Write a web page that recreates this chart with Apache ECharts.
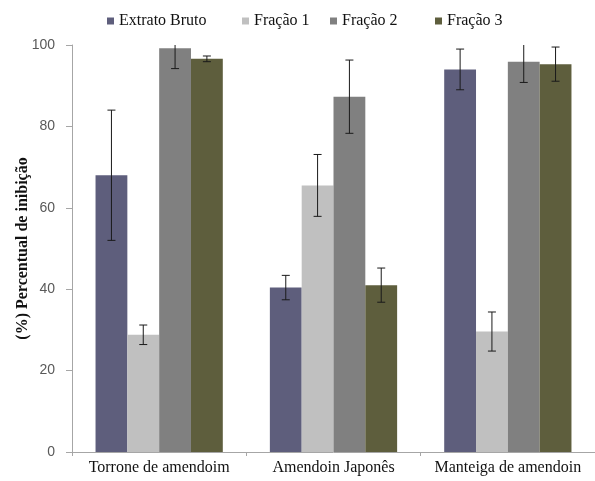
<!DOCTYPE html>
<html><head><meta charset="utf-8">
<script src="https://cdn.jsdelivr.net/npm/echarts@6/dist/echarts.min.js"></script>
<style>html,body{margin:0;padding:0;background:#fff}#c{width:595px;height:481px}</style>
</head><body><div id="c"></div>
<script>
const categories = ['Torrone de amendoim', 'Amendoin Japonês', 'Manteiga de amendoin'];
const seriesNames = ['Extrato Bruto', 'Fração 1', 'Fração 2', 'Fração 3'];
const extratoBruto = [68.0, 40.4, 94.0];
const fracao1 = [28.8, 65.5, 29.6];
const fracao2 = [99.2, 87.3, 95.9];
const fracao3 = [96.6, 41.0, 95.3];
const errExtratoBruto = [16.0, 3.0, 5.0];
const errFracao1 = [2.4, 7.6, 4.8];
const errFracao2 = [5.0, 9.0, 5.1];
const errFracao3 = [0.7, 4.2, 4.2];
const yTicks = [0, 20, 40, 60, 80, 100];

const colors = ['#5E5E7C', '#C0C0C0', '#808080', '#5E5E3D'];
const values = [extratoBruto, fracao1, fracao2, fracao3];
const errors = [errExtratoBruto, errFracao1, errFracao2, errFracao3];
const GAP = 0.27;

const chart = echarts.init(document.getElementById('c'), null, {renderer: 'canvas'});

const barSeries = seriesNames.map((n, i) => ({
  name: n, type: 'bar', data: values[i], barGap: '0%', barCategoryGap: (GAP * 100) + '%',
  itemStyle: {color: colors[i]}
}));

const errData = [];
for (let s = 0; s < 4; s++) for (let c = 0; c < categories.length; c++)
  errData.push([c, values[s][c], errors[s][c], s]);

const errSeries = {
  type: 'custom', clip: true, z: 10, silent: true,
  data: errData,
  renderItem: function (params, api) {
    const c = api.value(0), v = api.value(1), e = api.value(2), s = api.value(3);
    const catW = api.size([1, 0])[0];
    const bw = catW * (1 - GAP) / 4;
    const base = api.coord([c, v]);
    const x = base[0] - catW * (1 - GAP) / 2 + bw * (s + 0.5);
    const yHi = api.coord([c, v + e])[1];
    const yLo = api.coord([c, v - e])[1];
    const cap = 4;
    const st = {stroke: '#1a1a1a', lineWidth: 1};
    return {type: 'group', children: [
      {type: 'line', shape: {x1: x, y1: yHi, x2: x, y2: yLo}, style: st},
      {type: 'line', shape: {x1: x - cap, y1: yHi, x2: x + cap, y2: yHi}, style: st},
      {type: 'line', shape: {x1: x - cap, y1: yLo, x2: x + cap, y2: yLo}, style: st}
    ]};
  }
};

const legendPos = [102, 237, 325, 430];
const legends = seriesNames.map((n, i) => ({
  data: [n], left: legendPos[i], top: 8, icon: 'rect', itemWidth: 7, itemHeight: 7, itemGap: 4,
  textStyle: {fontFamily: 'Liberation Serif', fontSize: 16, color: '#111'}
}));

chart.setOption({
  animation: false,
  legend: legends,
  grid: {left: 72, top: 45, width: 532, height: 407, containLabel: false},
  xAxis: {
    type: 'category', data: categories,
    axisLine: {lineStyle: {color: '#A6A6A6', width: 1}},
    axisTick: {show: true, length: 4, lineStyle: {color: '#A6A6A6'}},
    axisLabel: {interval: 0, fontFamily: 'Liberation Serif', fontSize: 16, color: '#111', margin: 8}
  },
  yAxis: {
    type: 'value', min: yTicks[0], max: yTicks[yTicks.length - 1], interval: 20,
    name: '(%) Percentual de inibição', nameLocation: 'middle', nameGap: 41, nameMoveOverlap: false,
    nameTextStyle: {fontFamily: 'Liberation Serif', fontWeight: 'bold', fontSize: 16, color: '#111'},
    axisLine: {show: true, lineStyle: {color: '#A6A6A6', width: 1}},
    axisTick: {show: true, length: 6, lineStyle: {color: '#A6A6A6'}},
    splitLine: {show: false},
    axisLabel: {fontFamily: 'Liberation Sans', fontSize: 14, color: '#595959', margin: 17}
  },
  series: barSeries.concat([errSeries])
});
</script>
</body></html>
